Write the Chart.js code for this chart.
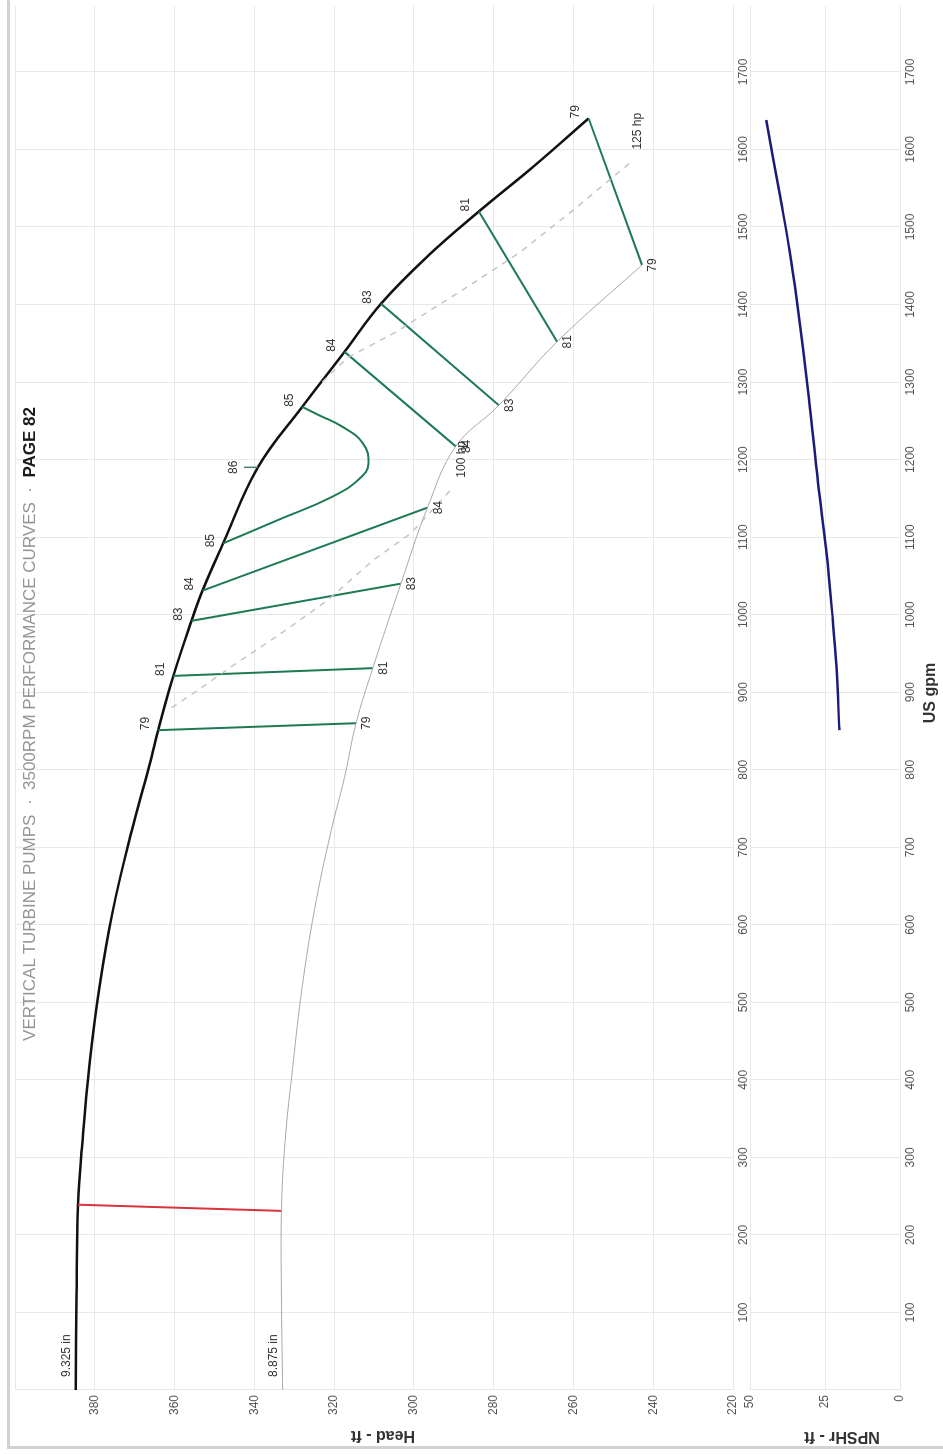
<!DOCTYPE html>
<html>
<head>
<meta charset="utf-8">
<script src="https://cdn.jsdelivr.net/npm/chart.js@4.4.0/dist/chart.umd.min.js"></script>
<style>
  html, body { margin: 0; padding: 0; background: #fff; }
  body { width: 943px; height: 1454px; overflow: hidden; position: relative; }
  /* the sheet is drawn landscape and turned a quarter to the left */
  #sheet {
    position: absolute; left: 0; top: 1454px;
    width: 1454px; height: 943px;
    transform-origin: 0 0; transform: rotate(-90deg);
    background: #fff;
    font-family: "Liberation Sans", Arial, sans-serif;
  }
  #headBox { position: absolute; left: 0; top: 0; width: 1454px; height: 760px; }
  #npshBox { position: absolute; left: 0; top: 736px; width: 1454px; height: 207px; }
  .rule { position: absolute; background: #d2d2d2; }
  #title {
    position: absolute; left: 3px; top: 20px; width: 1454px;
    text-align: center; font-size: 17px; line-height: 20px; color: #959595;
    white-space: pre;
  }
  #title b { color: #1a1a1a; }
  .axisTitle {
    position: absolute; font-weight: bold; font-size: 16px; color: #333;
    text-align: center; height: 20px; line-height: 20px; width: 200px;
  }
  .turn { transform: rotate(-90deg); }
</style>
</head>
<body>
<div id="sheet">
  <div class="rule" style="left:5px; top:7px; width:1449px; height:3px;"></div>
  <div class="rule" style="left:5px; top:7px; width:3px; height:936px;"></div>
  <div id="headBox"><canvas id="headChart" width="1454" height="760"></canvas></div>
  <div id="npshBox"><canvas id="npshChart" width="1454" height="207"></canvas></div>
  <div id="title"></div>
  <div class="axisTitle turn" style="left:-82px; top:373px;">Head - ft</div>
  <div class="axisTitle turn" style="left:-83px; top:832px;">NPSHr - ft</div>
  <div class="axisTitle" style="left:661px; top:920px;">US gpm</div>
</div>
<script>
// axis ticks
const gpmTicks = [100, 200, 300, 400, 500, 600, 700, 800, 900, 1000, 1100, 1200, 1300, 1400, 1500, 1600, 1700];
const headTicks = [220, 240, 260, 280, 300, 320, 340, 360, 380];
const npshTicks = [0, 25, 50];

const titleText = 'VERTICAL TURBINE PUMPS  \u00b7  3500RPM PERFORMANCE CURVES  \u00b7  ';
const titlePage = 'PAGE 82';

// impeller curves
const impellerLabels = ['9.325 in', '8.875 in'];
const flow9325 = [0, 120, 239, 320, 420, 520, 620, 720, 800, 851, 921, 992, 1031, 1092, 1190, 1268, 1339, 1401, 1462, 1520, 1578, 1640];
const head9325 = [384.8, 384.6, 384.2, 383.1, 381.3, 378.8, 375.4, 370.8, 366.6, 364.1, 360.3, 355.75, 353, 347.8, 339.1, 328, 317.4, 308.25, 296.6, 283.7, 270, 256.2];
const flow8875 = [0, 120, 231, 320, 420, 520, 620, 720, 790, 860, 931, 1040, 1138, 1217, 1270, 1352, 1451];
const head8875 = [332.9, 333.2, 333.2, 332.3, 330.3, 328, 324.9, 320.8, 317.4, 314.5, 310.3, 303.25, 296.6, 289.5, 278.7, 264.1, 242.8];

// efficiency lines (percent), from the big impeller down to the small one
const effValues = [79, 81, 83, 84, 84, 83, 81, 79];
const effFlowTop = [851, 921, 992, 1031, 1339, 1401, 1520, 1640];
const effHeadTop = [364.1, 360.3, 355.75, 353, 317.4, 308.25, 283.7, 256.2];
const effFlowBottom = [860, 931, 1040, 1138, 1217, 1270, 1352, 1451];
const effHeadBottom = [314.5, 310.3, 303.25, 296.6, 289.5, 278.7, 264.1, 242.8];

// 85% island and best efficiency mark
const eff85Value = 85;
const eff85Flow = [1092, 1122, 1152, 1176, 1195, 1221, 1242, 1258, 1268];
const eff85Head = [347.8, 334.1, 320.5, 313.5, 311.4, 312.8, 317.8, 324.1, 328];
const bepValue = 86;
const bepFlow = [1190, 1190];
const bepHead = [339.1, 342.6];

// minimum flow line
const minFlowFlow = [239, 231];
const minFlowHead = [384.2, 333.2];

// motor power lines
const hpLabels = ['100 hp', '125 hp'];
const hp100Flow = [880, 903, 933, 976, 1019, 1071, 1105, 1165];
const hp100Head = [360.75, 354, 345.75, 333.25, 321.5, 310, 300.75, 290];
const hp125Flow = [1300, 1332, 1363, 1423, 1467, 1522, 1583];
const hp125Head = [323, 316.5, 305, 286.5, 273.5, 260, 245.75];

// NPSH required
const npshFlow = [851, 933, 993, 1083, 1170, 1281, 1406, 1470, 1544, 1638];
const npshValue = [20.2, 21.2, 22.4, 24.6, 27.3, 30.4, 34.4, 36.8, 40.2, 44.6];

document.getElementById('title').innerHTML = titleText + '<b>' + titlePage + '</b>';

const FONT = '"Liberation Sans", Arial, sans-serif';
const GRID = '#e8e8e8';
const GREEN = '#1e7a52';

function pts(xs, ys) {
    return xs.map((x, i) => ({ x: x, y: ys[i] }));
}

function line(xs, ys, color, width, extra) {
    return Object.assign({
        data: pts(xs, ys),
        showLine: true,
        borderColor: color,
        borderWidth: width,
        pointRadius: 0,
        tension: 0
    }, extra || {});
}

function gpmAxis(height) {
    return {
        type: 'linear', min: 0, max: 1785,
        afterBuildTicks: s => { s.ticks = [0].concat(gpmTicks).map(v => ({ value: v })); },
        ticks: {
            callback: v => v === 0 ? '' : String(v),
            autoSkip: false, maxRotation: 0, padding: 3,
            font: { family: FONT, size: 12 }, color: '#555'
        },
        grid: { color: GRID, drawTicks: false },
        border: { display: false },
        afterFit: s => { s.height = height; }
    };
}

const labelPlugin = {
    id: 'pumpLabels',
    afterDatasetsDraw(chart) {
        const ctx = chart.ctx;
        const xs = chart.scales.x, ys = chart.scales.y;
        function put(text, f, h, dx, dy, align, base) {
            ctx.textAlign = align;
            ctx.textBaseline = base;
            ctx.fillText(text, xs.getPixelForValue(f) + dx, ys.getPixelForValue(h) + dy);
        }
        ctx.save();
        ctx.font = '12px ' + FONT;
        ctx.fillStyle = '#333';
        put(impellerLabels[0], flow9325[0], head9325[0], 13, -3, 'left', 'bottom');
        put(impellerLabels[1], flow8875[0], head8875[0], 13, -3, 'left', 'bottom');
        effValues.forEach((v, i) => {
            put(String(v), effFlowTop[i], effHeadTop[i], 0, -7, 'left', 'bottom');
            put(String(v), effFlowBottom[i], effHeadBottom[i], 0, 5, 'center', 'top');
        });
        put(String(eff85Value), eff85Flow[0], eff85Head[0], -4, -7, 'left', 'bottom');
        put(String(eff85Value), eff85Flow[eff85Flow.length - 1], eff85Head[eff85Head.length - 1], 0, -7, 'left', 'bottom');
        put(String(bepValue), bepFlow[1], bepHead[1], 0, -4, 'center', 'bottom');
        put(hpLabels[0], hp100Flow[hp100Flow.length - 1], hp100Head[hp100Head.length - 1], 9, 8, 'left', 'middle');
        put(hpLabels[1], hp125Flow[hp125Flow.length - 1], hp125Head[hp125Head.length - 1], 13, 7, 'left', 'middle');
        ctx.restore();
    }
};

const headSets = [
    line(hp100Flow, hp100Head, '#c4c4c4', 1.5, { borderDash: [6, 6] }),
    line(hp125Flow, hp125Head, '#c4c4c4', 1.5, { borderDash: [6, 6] }),
    line(flow8875, head8875, '#a8a8a8', 1, { tension: 0.4 }),
    line(minFlowFlow, minFlowHead, '#d8343c', 2),
    line(eff85Flow, eff85Head, GREEN, 2, { tension: 0.45 }),
    line(bepFlow, bepHead, '#4f7f6a', 1.5)
];
effValues.forEach((v, i) => {
    headSets.push(line([effFlowTop[i], effFlowBottom[i]], [effHeadTop[i], effHeadBottom[i]], GREEN, 2));
});
headSets.push(line(flow9325, head9325, '#111', 2.5, { tension: 0.4 }));

new Chart(document.getElementById('headChart'), {
    type: 'scatter',
    data: { datasets: headSets },
    options: {
        responsive: false, maintainAspectRatio: false, animation: false, events: [],
        layout: { padding: { left: 0, right: 6, top: 15, bottom: 0 } },
        plugins: { legend: { display: false }, tooltip: { enabled: false } },
        scales: {
            x: gpmAxis(27),
            y: {
                type: 'linear', min: 220, max: 400,
                afterBuildTicks: s => { s.ticks = headTicks.concat([400]).map(v => ({ value: v })); },
                ticks: {
                    callback: v => v === 400 ? '' : String(v),
                    autoSkip: false, padding: 5,
                    font: { family: FONT, size: 12 }, color: '#555'
                },
                grid: { color: GRID, drawTicks: false },
                border: { display: false },
                afterFit: s => { s.width = 64; }
            }
        }
    },
    plugins: [labelPlugin]
});

new Chart(document.getElementById('npshChart'), {
    type: 'scatter',
    data: {
        datasets: [line(npshFlow, npshValue, '#1c1c78', 2.5, { tension: 0.4 })]
    },
    options: {
        responsive: false, maintainAspectRatio: false, animation: false, events: [],
        layout: { padding: { left: 0, right: 6, top: 14, bottom: 0 } },
        plugins: { legend: { display: false }, tooltip: { enabled: false } },
        scales: {
            x: gpmAxis(43),
            y: {
                type: 'linear', min: 0, max: 50,
                afterBuildTicks: s => { s.ticks = npshTicks.map(v => ({ value: v })); },
                ticks: {
                    autoSkip: false, padding: 5,
                    font: { family: FONT, size: 12 }, color: '#555'
                },
                grid: { color: GRID, drawTicks: false },
                border: { display: false },
                afterFit: s => { s.width = 64; }
            }
        }
    }
});
</script>
</body>
</html>
